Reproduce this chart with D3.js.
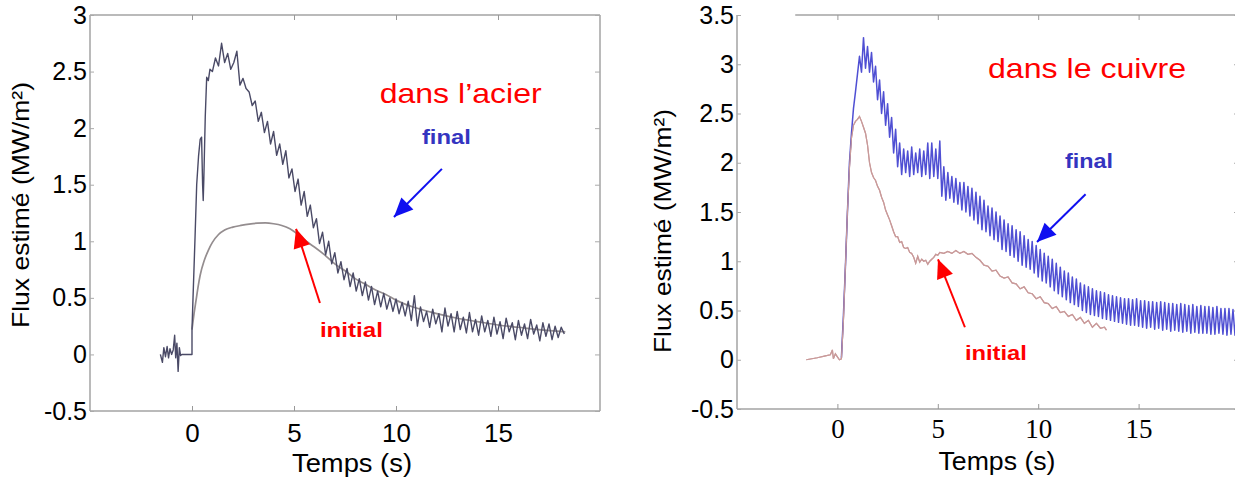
<!DOCTYPE html>
<html><head><meta charset="utf-8">
<script src="https://cdn.jsdelivr.net/npm/d3@7"></script>
<style>body{margin:0;background:#fff}svg{display:block}</style>
</head><body><svg id="c" width="1235" height="479"></svg>
<script>
// ---------- DATA ----------
const xTicks = [0, 5, 10, 15];
const yTicksAcier = [-0.5, 0, 0.5, 1, 1.5, 2, 2.5, 3];
const yTicksCuivre = [-0.5, 0, 0.5, 1, 1.5, 2, 2.5, 3, 3.5];
const yLabel = "Flux estimé (MW/m²)";
const xLabel = "Temps (s)";

// Steel (acier) – final estimate: onset part (explicit times) + sampled part
const acierFinalOnsetT = [-1.55,-1.45,-1.38,-1.3,-1.22,-1.15,-1.08,-1.0,-0.92,-0.85,-0.8,-0.74,-0.68,-0.62,-0.56,-0.5,-0.05,0.0,0.0,0.05,0.15,0.23,0.32,0.4,0.47,0.52,0.55,0.58,0.65,0.72,0.8,0.88];
const acierFinalOnsetV = [0.0,-0.07,0.06,-0.02,0.07,-0.03,0.05,0.0,0.04,0.17,-0.03,0.1,-0.15,0.06,-0.01,0.0,0.0,0.0,0.22,0.5,1.04,1.5,1.75,1.9,1.92,1.5,1.36,1.55,2.1,2.45,2.42,2.52];
const acierFinalT0 = 1.0, acierFinalDt = 0.15;
const acierFinalV = [
 2.5,2.62,2.55,2.75,2.58,2.66,2.52,2.58,2.68,2.38,
 2.44,2.35,2.32,2.2,2.24,2.06,2.14,1.96,2.06,1.86,
 1.97,1.76,1.86,1.68,1.8,1.56,1.64,1.44,1.55,1.32,
 1.44,1.22,1.32,1.12,1.2,0.98,1.08,0.88,1.0,0.8,
 0.9,0.72,0.82,0.66,0.76,0.6,0.72,0.56,0.67,0.52,
 0.64,0.48,0.6,0.44,0.56,0.42,0.54,0.4,0.5,0.38,
 0.49,0.36,0.46,0.34,0.47,0.3,0.52,0.25,0.42,0.29,
 0.38,0.24,0.4,0.27,0.36,0.2,0.41,0.25,0.36,0.2,
 0.38,0.22,0.33,0.19,0.37,0.2,0.31,0.17,0.34,0.2,
 0.3,0.16,0.33,0.18,0.29,0.14,0.32,0.2,0.28,0.13,
 0.3,0.17,0.27,0.14,0.31,0.18,0.26,0.12,0.28,0.16,
 0.27,0.13,0.25,0.15,0.24,0.18];
// Steel – initial estimate (smooth)
const acierInitT = [0.0,0.1,0.2,0.3,0.4,0.6,0.8,1.0,1.3,1.6,2.0,2.4,2.8,3.2,3.6,4.0,4.4,4.8,5.2,5.6,6.0,6.5,7.0,7.5,8.0,8.5,9.0,9.5,10.0,10.5,11,12,13,14,15,16,17,18.3];
const acierInitV = [0.22,0.36,0.48,0.6,0.7,0.83,0.92,0.99,1.06,1.1,1.125,1.14,1.152,1.16,1.162,1.155,1.14,1.11,1.06,1.0,0.95,0.88,0.8,0.74,0.67,0.62,0.57,0.53,0.48,0.44,0.41,0.36,0.32,0.29,0.26,0.24,0.22,0.2];

// Copper (cuivre) – final estimate, sampled every 0.1 s from 0.2 s
const cuivreFinalT0 = 0.2, cuivreFinalDt = 0.1;
const cuivreFinalV = [
 0.02,0.45,0.95,1.5,2.0,2.3,2.55,2.72,2.9,3.08,
 2.92,3.27,2.96,3.18,2.92,3.12,2.82,2.98,2.64,2.84,
 2.5,2.72,2.38,2.6,2.26,2.46,2.1,2.34,1.96,2.2,
 1.88,2.14,1.9,2.12,1.86,2.16,1.88,2.1,1.9,2.14,
 1.86,2.12,1.88,2.2,1.84,2.2,1.86,2.14,1.84,2.22,
 1.66,1.96,1.62,1.9,1.64,1.86,1.6,1.84,1.58,1.8,
 1.52,1.8,1.5,1.76,1.46,1.74,1.42,1.7,1.38,1.66,
 1.32,1.62,1.3,1.56,1.26,1.54,1.22,1.5,1.2,1.46,
 1.12,1.42,1.1,1.38,1.06,1.36,1.04,1.32,1.0,1.3,
 0.96,1.26,0.94,1.22,0.92,1.2,0.88,1.16,0.84,1.12,
 0.8,1.08,0.78,1.05,0.74,1.02,0.7,0.98,0.67,0.94,
 0.64,0.9,0.61,0.88,0.58,0.84,0.56,0.82,0.54,0.78,
 0.5,0.76,0.48,0.74,0.46,0.72,0.45,0.7,0.44,0.69,
 0.42,0.68,0.41,0.66,0.4,0.65,0.39,0.64,0.38,0.63,
 0.37,0.62,0.36,0.62,0.35,0.61,0.35,0.62,0.34,0.6,
 0.33,0.6,0.32,0.59,0.33,0.59,0.31,0.58,0.32,0.59,
 0.3,0.58,0.31,0.57,0.29,0.57,0.3,0.56,0.29,0.57,
 0.28,0.56,0.29,0.55,0.27,0.56,0.28,0.54,0.27,0.55,
 0.27,0.54,0.27,0.54,0.26,0.53,0.26,0.54,0.27,0.52,
 0.26,0.52,0.25,0.52,0.26,0.51,0.25,0.5];
// Copper – initial estimate
const cuivreInitT = [-1.55,-1.0,-0.6,-0.35,-0.25,-0.2,-0.1,0.0,0.1,0.2,0.3,0.4,0.5,0.6,0.7,0.8,0.9,1.0,1.1,1.2,1.3,1.4,1.5,1.6,1.7,1.8,1.9,2.0,2.1,2.2,2.3,2.4,2.5,2.6,2.7,2.8,2.9,3.0,3.1,3.2,3.3,3.4,3.5,3.6,3.7,3.8,3.9,4.0,4.1,4.2,4.3,4.4,4.5,4.6,4.7,4.8,4.9,5.0,5.1,5.3,5.5,5.7,5.9,6.1,6.3,6.5,6.7,6.9,7.1,7.3,7.5,7.7,7.9,8.1,8.3,8.5,8.7,8.9,9.1,9.3,9.5,9.7,9.9,10.1,10.3,10.5,10.7,10.9,11.1,11.3,11.5,11.7,11.9,12.1,12.3,12.5,12.7,12.9,13.1,13.3,13.4];
const cuivreInitV = [0.0,0.02,0.04,0.05,0.1,0.01,0.06,0.03,0.0,0.01,0.4,0.95,1.5,1.95,2.25,2.38,2.42,2.44,2.47,2.42,2.36,2.3,2.18,2.0,1.9,1.85,1.82,1.76,1.72,1.65,1.6,1.52,1.47,1.42,1.36,1.3,1.25,1.25,1.19,1.2,1.14,1.13,1.14,1.09,1.08,1.04,0.98,1.05,0.99,1.02,1.0,1.01,0.97,1.0,1.02,1.04,1.07,1.06,1.09,1.08,1.1,1.08,1.11,1.08,1.1,1.07,1.08,1.04,1.01,0.96,0.95,0.9,0.91,0.85,0.83,0.84,0.78,0.77,0.72,0.74,0.68,0.67,0.62,0.64,0.58,0.57,0.52,0.54,0.48,0.49,0.44,0.46,0.4,0.43,0.37,0.4,0.33,0.37,0.32,0.33,0.3];

// ---------- DRAWING ----------
const svg = d3.select('#c');
const SANS = "'Liberation Sans', Arial, sans-serif";
const SERIF = "'Liberation Serif', 'Times New Roman', serif";

const defs = svg.append('defs');
function marker(id, color) {
  defs.append('marker').attr('id', id).attr('markerUnits', 'userSpaceOnUse')
    .attr('viewBox', '-20 -10 22 20').attr('refX', 0).attr('refY', 0)
    .attr('markerWidth', 22).attr('markerHeight', 20).attr('orient', 'auto')
    .append('path').attr('d', 'M0,0 L-19,-8.5 L-19,8.5 Z').attr('fill', color);
}
marker('arrBlue', '#1010f0');
marker('arrRed', '#ff0000');

function pairs(T, V) { return T.map((t, i) => [t, V[i]]); }
function sampled(t0, dt, V) { return V.map((v, i) => [t0 + i * dt, v]); }

function panel(cfg) {
  const x = d3.scaleLinear().domain([-5, 20]).range(cfg.xr);
  const y = d3.scaleLinear().domain(cfg.yd).range(cfg.yr);
  const g = svg.append('g');
  const boxC = '#a3a3a3';

  // box
  g.append('line').attr('x1', x(cfg.topStart)).attr('x2', cfg.xr[1]).attr('y1', cfg.yr[1]).attr('y2', cfg.yr[1]).attr('stroke', boxC).attr('stroke-width', 1.5);
  g.append('line').attr('x1', cfg.xr[0]).attr('x2', cfg.xr[1]).attr('y1', cfg.yr[0]).attr('y2', cfg.yr[0]).attr('stroke', boxC).attr('stroke-width', 1.5);
  g.append('line').attr('x1', cfg.xr[0]).attr('x2', cfg.xr[0]).attr('y1', cfg.yr[0]).attr('y2', cfg.yr[1]).attr('stroke', boxC).attr('stroke-width', 1.5);
  g.append('line').attr('x1', cfg.xr[1]).attr('x2', cfg.xr[1]).attr('y1', cfg.yr[0]).attr('y2', cfg.yr[1]).attr('stroke', boxC).attr('stroke-width', 1.5);

  // axes
  const fmt = d => String(d);
  const ax = g.append('g').attr('transform', `translate(0,${cfg.yr[0]})`)
    .call(d3.axisBottom(x).tickValues(xTicks).tickFormat(fmt).tickSizeInner(-5).tickSizeOuter(0).tickPadding(cfg.xPad));
  ax.select('.domain').remove();
  ax.selectAll('line').attr('stroke', '#999');
  ax.selectAll('text').attr('fill', '#000').style('font-family', cfg.xFont).style('font-size', cfg.xFs + 'px');

  const at = g.append('g').attr('transform', `translate(0,${cfg.yr[1]})`)
    .call(d3.axisTop(x).tickValues(xTicks).tickFormat('').tickSizeInner(-5).tickSizeOuter(0));
  at.select('.domain').remove(); at.selectAll('line').attr('stroke', '#999');

  const ay = g.append('g').attr('transform', `translate(${cfg.xr[0]},0)`)
    .call(d3.axisLeft(y).tickValues(cfg.yTicks).tickFormat(fmt).tickSizeInner(-4).tickSizeOuter(0).tickPadding(3));
  ay.select('.domain').remove();
  ay.selectAll('line').attr('stroke', '#aaa');
  ay.selectAll('text').attr('fill', '#000').style('font-family', SANS).style('font-size', cfg.yFs + 'px');

  const ar = g.append('g').attr('transform', `translate(${cfg.xr[1]},0)`)
    .call(d3.axisRight(y).tickValues(cfg.yTicks).tickFormat('').tickSizeInner(-5).tickSizeOuter(0));
  ar.select('.domain').remove(); ar.selectAll('line').attr('stroke', '#aaa');

  // axis titles
  g.append('text').attr('transform', `translate(${cfg.ylx},${cfg.yly}) rotate(-90)`)
    .attr('text-anchor', 'middle').attr('textLength', cfg.ylLen).attr('lengthAdjust', 'spacingAndGlyphs')
    .style('font-family', SANS).style('font-size', '24px').text(yLabel);
  g.append('text').attr('x', cfg.xlx).attr('y', cfg.xly).attr('text-anchor', 'middle')
    .attr('textLength', cfg.xlLen).attr('lengthAdjust', 'spacingAndGlyphs')
    .style('font-family', SANS).style('font-size', '25px').text(xLabel);

  // curves
  const line = d3.line().x(d => x(d[0])).y(d => y(d[1]));
  const smooth = d3.line().x(d => x(d[0])).y(d => y(d[1])).curve(d3.curveMonotoneX);
  g.append('path').attr('d', (cfg.initSmooth ? smooth : line)(cfg.init)).attr('fill', 'none')
    .attr('stroke', cfg.initColor).attr('stroke-width', cfg.initW);
  g.append('path').attr('d', line(cfg.fin)).attr('fill', 'none')
    .attr('stroke', cfg.finColor).attr('stroke-width', cfg.finW).attr('stroke-opacity', cfg.finOp).attr('stroke-linejoin', 'round');
  if (cfg.initOnTop) {
    g.append('path').attr('d', (cfg.initSmooth ? smooth : line)(cfg.init)).attr('fill', 'none')
      .attr('stroke', cfg.initColor).attr('stroke-width', cfg.initW);
  }

  // annotations
  const A = cfg.ann;
  g.append('text').attr('x', x(A.title[0])).attr('y', y(A.title[1])).attr('fill', '#ff0000')
    .attr('textLength', A.titleLen).attr('lengthAdjust', 'spacingAndGlyphs')
    .style('font-family', SANS).style('font-size', '28px').text(A.titleText);
  g.append('text').attr('x', x(A.fin[0])).attr('y', y(A.fin[1])).attr('fill', '#3434c0')
    .attr('textLength', A.finLen).attr('lengthAdjust', 'spacingAndGlyphs')
    .style('font-family', SANS).style('font-weight', 'bold').style('font-size', '20px').text('final');
  g.append('text').attr('x', x(A.ini[0])).attr('y', y(A.ini[1])).attr('fill', '#ff0000')
    .attr('textLength', A.iniLen).attr('lengthAdjust', 'spacingAndGlyphs')
    .style('font-family', SANS).style('font-weight', 'bold').style('font-size', '20px').text('initial');
  g.append('line').attr('x1', x(A.bArrow[0])).attr('y1', y(A.bArrow[1])).attr('x2', x(A.bArrow[2])).attr('y2', y(A.bArrow[3]))
    .attr('stroke', '#1010f0').attr('stroke-width', 2).attr('marker-end', 'url(#arrBlue)');
  g.append('line').attr('x1', x(A.rArrow[0])).attr('y1', y(A.rArrow[1])).attr('x2', x(A.rArrow[2])).attr('y2', y(A.rArrow[3]))
    .attr('stroke', '#ff0000').attr('stroke-width', 2).attr('marker-end', 'url(#arrRed)');
}

panel({
  xr: [90, 600], yd: [-0.5, 3], yr: [411, 15], yTicks: yTicksAcier, topStart: -5,
  xPad: 13, xFont: SANS, xFs: 26, yFs: 25,
  ylx: 29, yly: 205, ylLen: 246, xlx: 352, xly: 472, xlLen: 120,
  init: pairs(acierInitT, acierInitV), initSmooth: true, initColor: '#948d8f', initW: 1.7,
  fin: pairs(acierFinalOnsetT, acierFinalOnsetV).concat(sampled(acierFinalT0, acierFinalDt, acierFinalV)),
  finColor: '#4a4a66', finW: 1.4, finOp: 1, initOnTop: false,
  ann: { title: [9.2, 2.22], titleLen: 162, titleText: 'dans l’acier',
         fin: [11.27, 1.86], finLen: 49, ini: [6.27, 0.154], iniLen: 63,
         bArrow: [12.25, 1.64, 9.9, 1.215], rArrow: [6.27, 0.455, 5.1, 1.11] }
});

panel({
  xr: [737, 1239], yd: [-0.5, 3.5], yr: [409, 15], yTicks: yTicksCuivre, topStart: -2.1,
  xPad: 10, xFont: SERIF, xFs: 27, yFs: 25,
  ylx: 671, yly: 231, ylLen: 244, xlx: 997, xly: 470, xlLen: 117,
  init: pairs(cuivreInitT, cuivreInitV), initSmooth: false, initColor: '#c99a9a', initW: 1.2,
  fin: sampled(cuivreFinalT0, cuivreFinalDt, cuivreFinalV),
  finColor: '#2323c8', finW: 1.5, finOp: 0.8, initOnTop: true,
  ann: { title: [7.5, 2.86], titleLen: 198, titleText: 'dans le cuivre',
         fin: [11.34, 1.95], finLen: 48, ini: [6.35, 0.0], iniLen: 62,
         bArrow: [12.36, 1.68, 9.94, 1.195], rArrow: [6.35, 0.33, 5.01, 1.02] }
});
</script></body></html>
